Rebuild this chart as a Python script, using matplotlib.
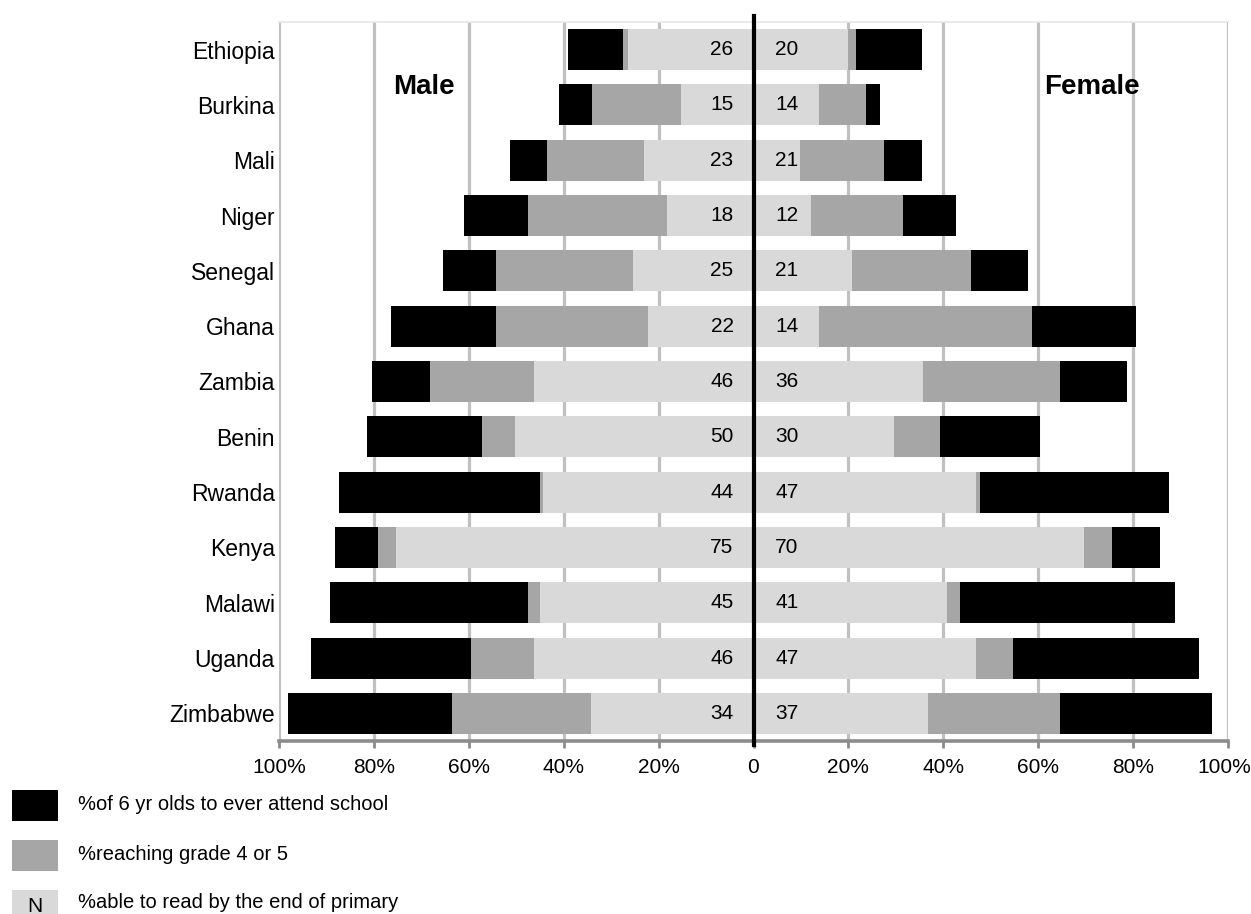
import matplotlib
matplotlib.use("Agg")
import matplotlib.pyplot as plt
from matplotlib.patches import Rectangle
from matplotlib.transforms import ScaledTranslation
import numpy as np

plt.rcParams['font.family'] = ['Liberation Sans', 'DejaVu Sans']

countries = ['Ethiopia', 'Burkina', 'Mali', 'Niger', 'Senegal', 'Ghana', 'Zambia',
             'Benin', 'Rwanda', 'Kenya', 'Malawi', 'Uganda', 'Zimbabwe']

# bar ends (cumulative %)
male_read = [26.5, 15.3, 23.1, 18.3, 25.4, 22.3, 46.2, 50.2, 44.3, 75.4, 45.1, 46.2, 34.2]
male_grade = [27.5, 34.0, 43.5, 47.5, 54.2, 54.2, 68.1, 57.2, 45.1, 79.1, 47.5, 59.5, 63.5]
male_attend = [39.0, 41.0, 51.3, 61.1, 65.4, 76.3, 80.3, 81.4, 87.3, 88.2, 89.2, 93.3, 98.2]
female_read = [20.0, 13.7, 9.7, 12.1, 20.7, 13.7, 35.7, 29.7, 46.8, 69.7, 40.8, 46.8, 36.7]
female_grade = [21.5, 23.8, 27.5, 31.6, 45.9, 58.7, 64.6, 39.4, 47.8, 75.6, 43.5, 54.6, 64.6]
female_attend = [35.5, 26.6, 35.5, 42.7, 57.9, 80.6, 78.7, 60.4, 87.6, 85.7, 88.8, 93.9, 96.6]

# N labels printed in the bars
male_n = [26, 15, 23, 18, 25, 22, 46, 50, 44, 75, 45, 46, 34]
female_n = [20, 14, 21, 12, 21, 14, 36, 30, 47, 70, 41, 47, 37]

tick_vals = [-100, -80, -60, -40, -20, 0, 20, 40, 60, 80, 100]
tick_labels = ['100%', '80%', '60%', '40%', '20%', '0', '20%', '40%', '60%', '80%', '100%']

legend_labels = ['%of 6 yr olds to ever attend school',
                 '%reaching grade 4 or 5',
                 '%able to read by the end of primary']

BLACK, MID, LIGHT = '#000000', '#a6a6a6', '#d9d9d9'
W, H = 1251, 914

fig = plt.figure(figsize=(W / 100, H / 100), dpi=100)
ax = fig.add_axes([279 / W, (H - 741) / H, (1228 - 279) / W, (741 - 22) / H])

y = np.arange(len(countries))
bh = 0.74

# overlapping bars, widest first
for side, att, grd, rd in ((-1, male_attend, male_grade, male_read),
                           (1, female_attend, female_grade, female_read)):
    ax.barh(y, side * np.array(att), height=bh, color=BLACK, zorder=3)
    ax.barh(y, side * np.array(grd), height=bh, color=MID, zorder=4)
    ax.barh(y, side * np.array(rd), height=bh, color=LIGHT, zorder=5)

for i in range(len(countries)):
    ax.text(-4.2, y[i], str(male_n[i]), ha='right', va='center', fontsize=15, zorder=6)
    ax.text(4.6, y[i], str(female_n[i]), ha='left', va='center', fontsize=15, zorder=6)

ax.set_xlim(-100, 100)
ax.set_ylim(len(countries) - 0.5, -0.5)

for v in tick_vals:
    if v != 0:
        ax.axvline(v, color='#c0c0c0', lw=2.3, zorder=1, solid_capstyle='round')

# centre divider, sticks out past the axes a bit
ax.plot([0, 0], [-0.006, 1.008], color='black', lw=3, transform=ax.get_xaxis_transform(),
        clip_on=False, zorder=7)

ax.set_xticks(tick_vals)
ax.set_xticklabels(tick_labels, fontsize=15)
ax.tick_params(axis='x', length=5, width=2, color='#8c8c8c', pad=7)
# keep the last label inside the picture
last = ax.get_xticklabels()[-1]
last.set_transform(last.get_transform() + ScaledTranslation(-4 / 100, 0, fig.dpi_scale_trans))
ax.set_yticks(y)
ax.set_yticklabels(countries, fontsize=16.5)
ax.tick_params(axis='y', length=0, pad=3)

for s in ('left', 'right'):
    ax.spines[s].set_visible(False)
ax.spines['top'].set_color('#e6e6e6')
ax.spines['top'].set_linewidth(1.2)
ax.spines['bottom'].set_color('#8c8c8c')
ax.spines['bottom'].set_linewidth(2.6)
ax.spines['bottom'].set_zorder(2)

ax.text(-69.5, 0.909, 'Male', transform=ax.get_xaxis_transform(), ha='center', va='center',
        fontsize=20, fontweight='bold', zorder=8)
ax.text(71.4, 0.909, 'Female', transform=ax.get_xaxis_transform(), ha='center', va='center',
        fontsize=20, fontweight='bold', zorder=8)

# legend drawn by hand in pixel positions
legend_boxes = [(93, BLACK), (43, MID), (-7, LIGHT)]
legend_text_y = [109, 59, 11]
for (yb, col), ty, lab in zip(legend_boxes, legend_text_y, legend_labels):
    fig.add_artist(Rectangle((12 / W, yb / H), 46 / W, 31 / H, transform=fig.transFigure,
                             facecolor=col, edgecolor='none'))
    fig.text(78 / W, ty / H, lab, ha='left', va='center', fontsize=14.5)
fig.text(35 / W, 7 / H, 'N', ha='center', va='center', fontsize=15)

fig.savefig('out.png', dpi=100)
